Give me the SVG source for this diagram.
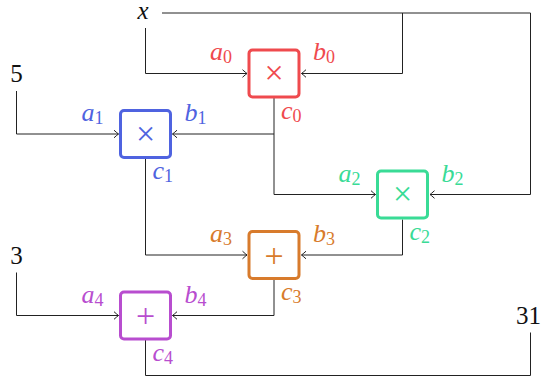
<svg xmlns="http://www.w3.org/2000/svg" width="541" height="380" viewBox="0 0 541 380">
<style>
  .bg { fill: #ffffff; }
  .wire { fill: none; stroke: #222222; stroke-width: 1; }
  .box { fill: #ffffff; stroke-width: 3; }
  .times { font-family: "Liberation Serif", "Times New Roman", "DejaVu Serif", serif; font-size: 34px; text-anchor: middle; }
  .plus { font-family: "Liberation Serif", "Times New Roman", "DejaVu Serif", serif; font-size: 34px; text-anchor: middle; }
  .lab { font-family: "Liberation Serif", "Times New Roman", "DejaVu Serif", serif; font-size: 26px; }
  .lab .v { font-style: italic; }
  .lab .s { font-size: 18px; font-style: normal; }
  .num { font-family: "Liberation Serif", "Times New Roman", "DejaVu Serif", serif; font-size: 25px; text-anchor: middle; fill: #111111; }
  .var { font-family: "Liberation Serif", "Times New Roman", "DejaVu Serif", serif; font-size: 25px; font-style: italic; text-anchor: middle; fill: #111111; }
  .red { stroke: #EF4A4E; fill: #EF4A4E; }
  .blue { stroke: #4F63E0; fill: #4F63E0; }
  .green { stroke: #39DB96; fill: #39DB96; }
  .orange { stroke: #D87B2C; fill: #D87B2C; }
  .purple { stroke: #B84DCF; fill: #B84DCF; }
  text.red, text.blue, text.green, text.orange, text.purple { stroke: none; }
  rect.red, rect.blue, rect.green, rect.orange, rect.purple { fill: #ffffff; }
</style>
<defs>
  <marker id="tip" viewBox="-6 -5 7 10" refX="0" refY="0" markerWidth="7" markerHeight="10" markerUnits="userSpaceOnUse" orient="auto">
    <path d="M -4.5 -3.8 Q -1.2 -0.8 0 0 Q -1.2 0.8 -4.5 3.8" fill="none" stroke="#222222" stroke-width="1"/>
  </marker>
</defs>
<rect class="bg" x="0" y="0" width="541" height="380"/>

<g id="connectors">
  <path class="wire" d="M 145.5 28 V 73.5 H 247" marker-end="url(#tip)"/>
  <path class="wire" d="M 162 13 H 530.5 V 194.5 H 430" marker-end="url(#tip)"/>
  <path class="wire" d="M 402.5 13 V 73.5 H 301.5" marker-end="url(#tip)"/>
  <path class="wire" d="M 16.5 91 V 134 H 118.5" marker-end="url(#tip)"/>
  <path class="wire" d="M 274 98 V 134 H 172.5" marker-end="url(#tip)"/>
  <path class="wire" d="M 274 134 V 194.5 H 375.5" marker-end="url(#tip)"/>
  <path class="wire" d="M 145.5 159 V 255 H 247" marker-end="url(#tip)"/>
  <path class="wire" d="M 402.5 219.5 V 255 H 301.5" marker-end="url(#tip)"/>
  <path class="wire" d="M 16.5 272.5 V 315.5 H 118.5" marker-end="url(#tip)"/>
  <path class="wire" d="M 274 280 V 315.5 H 172.5" marker-end="url(#tip)"/>
  <path class="wire" d="M 145.5 340 V 375.5 H 530.5 V 332.5"/>
</g>

<g id="input-x">
  <text class="var" x="143" y="19">x</text>
</g>
<g id="input-5">
  <text class="num" x="16.5" y="82">5</text>
</g>
<g id="input-3">
  <text class="num" x="16.5" y="264">3</text>
</g>
<g id="output-31">
  <text class="num" x="528.5" y="324">31</text>
</g>

<g id="gate0">
  <rect class="box red" x="249" y="50" width="50" height="47" rx="3.5"/>
  <text class="times red" x="274" y="84">×</text>
  <text class="lab red" x="210" y="60"><tspan class="v">a</tspan><tspan class="s" dy="3">0</tspan></text>
  <text class="lab red" x="313" y="60"><tspan class="v">b</tspan><tspan class="s" dy="3">0</tspan></text>
  <text class="lab red" x="281" y="119"><tspan class="v">c</tspan><tspan class="s" dy="3">0</tspan></text>
</g>

<g id="gate1">
  <rect class="box blue" x="120.5" y="110.5" width="50" height="47" rx="3.5"/>
  <text class="times blue" x="145.5" y="144.5">×</text>
  <text class="lab blue" x="81.5" y="121"><tspan class="v">a</tspan><tspan class="s" dy="3">1</tspan></text>
  <text class="lab blue" x="184.5" y="121"><tspan class="v">b</tspan><tspan class="s" dy="3">1</tspan></text>
  <text class="lab blue" x="152.5" y="179"><tspan class="v">c</tspan><tspan class="s" dy="3">1</tspan></text>
</g>

<g id="gate2">
  <rect class="box green" x="377.5" y="171" width="50" height="47" rx="3.5"/>
  <text class="times green" x="402.5" y="205">×</text>
  <text class="lab green" x="338.5" y="181.5"><tspan class="v">a</tspan><tspan class="s" dy="3">2</tspan></text>
  <text class="lab green" x="441.5" y="181.5"><tspan class="v">b</tspan><tspan class="s" dy="3">2</tspan></text>
  <text class="lab green" x="409.5" y="239.5"><tspan class="v">c</tspan><tspan class="s" dy="3">2</tspan></text>
</g>

<g id="gate3">
  <rect class="box orange" x="249" y="231.5" width="50" height="47" rx="3.5"/>
  <text class="plus orange" x="274" y="266.5">+</text>
  <text class="lab orange" x="210" y="242"><tspan class="v">a</tspan><tspan class="s" dy="3">3</tspan></text>
  <text class="lab orange" x="313" y="242"><tspan class="v">b</tspan><tspan class="s" dy="3">3</tspan></text>
  <text class="lab orange" x="281" y="300"><tspan class="v">c</tspan><tspan class="s" dy="3">3</tspan></text>
</g>

<g id="gate4">
  <rect class="box purple" x="120.5" y="292" width="50" height="47" rx="3.5"/>
  <text class="plus purple" x="145.5" y="327">+</text>
  <text class="lab purple" x="81.5" y="302.5"><tspan class="v">a</tspan><tspan class="s" dy="3">4</tspan></text>
  <text class="lab purple" x="184.5" y="302.5"><tspan class="v">b</tspan><tspan class="s" dy="3">4</tspan></text>
  <text class="lab purple" x="152.5" y="360.5"><tspan class="v">c</tspan><tspan class="s" dy="3">4</tspan></text>
</g>
</svg>
